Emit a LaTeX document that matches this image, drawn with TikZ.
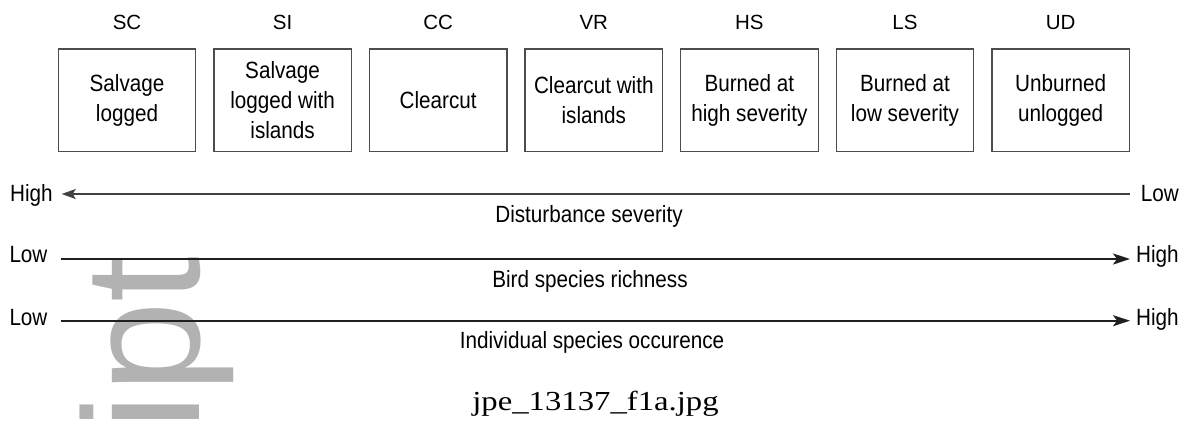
\documentclass[tikz,border=0pt]{standalone}
\usepackage{fontspec}
\setmainfont{Liberation Sans}[FakeStretch=0.88]
\newfontfamily\labelfont{Liberation Sans}
\newfontfamily\markfont{Liberation Sans}
\newfontfamily\filefont{Liberation Serif}[FakeStretch=1.19]
\usetikzlibrary{arrows.meta}

\begin{document}
\begin{tikzpicture}[x=1pt,y=-1pt,
  treatbox/.style={draw=black!70, line width=1.3pt, minimum width=137.5pt,
    minimum height=102.7pt, inner sep=0pt, align=center,
    font=\fontsize{23.5pt}{30pt}\selectfont},
  code/.style={anchor=base, inner sep=0pt,
    font=\labelfont\fontsize{20.5pt}{24pt}\selectfont},
  endlabel/.style={anchor=base west, inner sep=0pt,
    font=\fontsize{23.5pt}{28pt}\selectfont},
  axistitle/.style={anchor=base, inner sep=0pt,
    font=\fontsize{23.5pt}{28pt}\selectfont},
  severityline/.style={line width=1.2pt, draw=black!75,
    -{Stealth[length=14pt,width=10pt,inset=3pt]}},
  gradientline/.style={line width=1.8pt, draw=black!88,
    -{Stealth[length=17pt,width=11pt,inset=4pt]}},
]
\useasboundingbox (0,0) rectangle (1191,424);

% faint rotated watermark fragment (leading kern trims the side bearing of the i)
\node[anchor=base east, rotate=90, inner sep=0pt, text=gray!60,
  font=\markfont\fontsize{165pt}{165pt}\selectfont] (mark) at (199,256) {\kern-11pt ipt};

% treatment codes and boxes
\foreach \k/\cd/\txt [count=\i from 0] in {
  sc/SC/{Salvage\\logged},
  si/SI/{Salvage\\logged with\\islands},
  cc/CC/{Clearcut},
  vr/VR/{Clearcut with\\islands},
  hs/HS/{Burned at\\high severity},
  ls/LS/{Burned at\\low severity},
  ud/UD/{Unburned\\unlogged}} {
  \node[code] (code-\k) at ({127+155.6*\i},29.3) {\cd};
  \node[treatbox] (box-\k) at ({127+155.6*\i},100.3) {\txt};
}

% disturbance severity axis
\node[endlabel] (sevhigh) at (10,201) {High};
\node[endlabel] (sevlow) at (1140.7,201) {Low};
\coordinate (sevL) at (61.7,194);
\coordinate (sevR) at (1130,194);
\draw[severityline] (sevR) -- (sevL);
\node[axistitle] (sevtitle) at (589,222.3) {Disturbance severity};

% bird species richness axis
\node[endlabel] (richlow) at (9.3,262.5) {Low};
\node[endlabel] (richhigh) at (1136,262.5) {High};
\coordinate (richL) at (60.7,259);
\coordinate (richR) at (1130,259);
\draw[gradientline] (richL) -- (richR);
\node[axistitle] (richtitle) at (590,287.5) {Bird species richness};

% individual species occurrence axis
\node[endlabel] (occlow) at (9.3,325) {Low};
\node[endlabel] (occhigh) at (1136,325) {High};
\coordinate (occL) at (60.7,320.7);
\coordinate (occR) at (1130,320.7);
\draw[gradientline] (occL) -- (occR);
\node[axistitle] (occtitle) at (592,348.7) {Individual species occurence};

% file name caption
\node[anchor=base, inner sep=0pt, font=\filefont\fontsize{27.5pt}{30pt}\selectfont]
  (filename) at (595.5,410) {jpe\_13137\_f1a.jpg};
\end{tikzpicture}
\end{document}
